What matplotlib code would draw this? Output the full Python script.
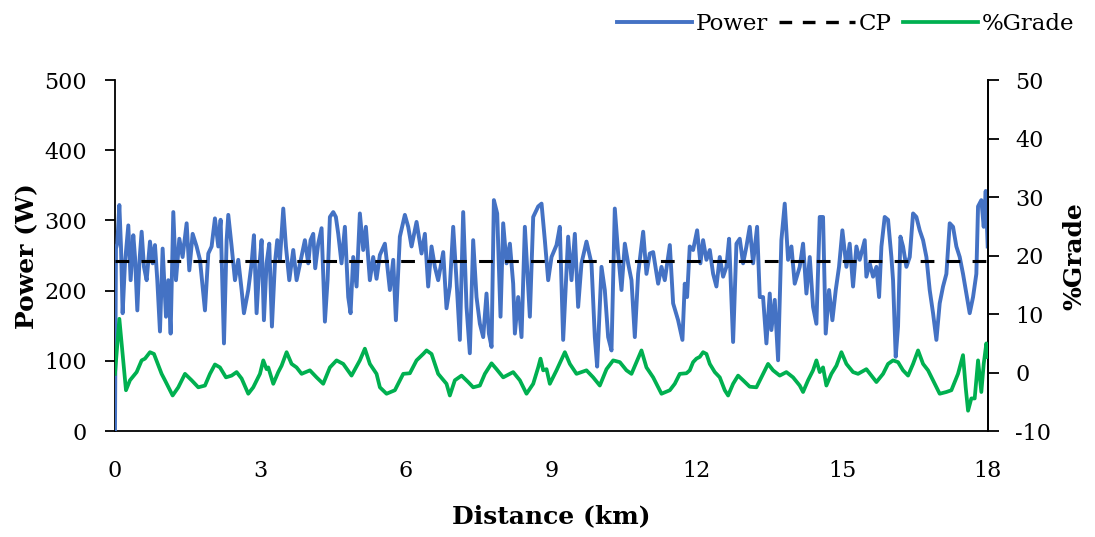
import matplotlib
matplotlib.use("Agg")
import matplotlib.pyplot as plt
from matplotlib.lines import Line2D

plt.rcParams['font.family'] = ['DejaVu Serif']
plt.rcParams['axes.unicode_minus'] = False

# Power trace (distance in km, power in W)
power_km = [0.0, 0.02, 0.048, 0.09, 0.124, 0.158, 0.206, 0.275, 0.323, 0.378, 0.413, 0.461,
            0.502, 0.55, 0.598, 0.653, 0.722, 0.777, 0.825, 0.873, 0.928, 0.983, 1.052, 1.1,
            1.148, 1.203, 1.258, 1.327, 1.395, 1.478, 1.533, 1.602, 1.684, 1.753, 1.856, 1.925,
            1.993, 2.062, 2.131, 2.179, 2.248, 2.303, 2.337, 2.406, 2.475, 2.543, 2.612, 2.66,
            2.749, 2.818, 2.866, 2.921, 2.976, 3.024, 3.072, 3.127, 3.182, 3.237, 3.299, 3.347,
            3.402, 3.471, 3.526, 3.595, 3.677, 3.746, 3.917, 3.986, 4.034, 4.089, 4.13, 4.192,
            4.261, 4.33, 4.385, 4.433, 4.502, 4.556, 4.605, 4.673, 4.742, 4.811, 4.859, 4.914,
            4.983, 5.051, 5.12, 5.175, 5.257, 5.326, 5.395, 5.464, 5.567, 5.67, 5.739, 5.794,
            5.876, 5.979, 6.048, 6.117, 6.22, 6.323, 6.392, 6.46, 6.529, 6.598, 6.666, 6.77,
            6.838, 6.907, 6.976, 7.044, 7.113, 7.182, 7.251, 7.319, 7.388, 7.457, 7.526, 7.595,
            7.663, 7.712, 7.767, 7.815, 7.883, 7.952, 8.007, 8.076, 8.145, 8.213, 8.248, 8.316,
            8.385, 8.454, 8.557, 8.626, 8.729, 8.798, 8.866, 8.935, 9.004, 9.107, 9.175, 9.244,
            9.347, 9.416, 9.485, 9.553, 9.622, 9.725, 9.828, 9.897, 9.945, 10.035, 10.103, 10.172,
            10.241, 10.309, 10.378, 10.447, 10.516, 10.584, 10.653, 10.722, 10.79, 10.894, 10.962,
            11.031, 11.1, 11.203, 11.272, 11.34, 11.444, 11.512, 11.615, 11.704, 11.752, 11.8,
            11.855, 11.924, 12.007, 12.075, 12.13, 12.199, 12.268, 12.337, 12.405, 12.474, 12.543,
            12.611, 12.666, 12.749, 12.818, 12.886, 12.955, 13.024, 13.092, 13.161, 13.244, 13.299,
            13.367, 13.436, 13.505, 13.539, 13.608, 13.677, 13.745, 13.814, 13.883, 13.952, 14.02,
            14.123, 14.192, 14.261, 14.33, 14.398, 14.467, 14.536, 14.604, 14.659, 14.728, 14.797,
            14.866, 14.934, 15.003, 15.086, 15.154, 15.223, 15.292, 15.36, 15.464, 15.498, 15.567,
            15.636, 15.705, 15.76, 15.808, 15.876, 15.945, 16.014, 16.048, 16.103, 16.151, 16.2,
            16.254, 16.323, 16.392, 16.461, 16.529, 16.598, 16.667, 16.736, 16.804, 16.873, 16.942,
            17.01, 17.079, 17.148, 17.217, 17.285, 17.354, 17.423, 17.491, 17.56, 17.629, 17.698,
            17.766, 17.801, 17.869, 17.918, 17.959, 18.0]
power_w = [0, 260, 267, 322, 263, 168, 239, 293, 215, 279, 248, 172,
           239, 284, 234, 215, 270, 239, 265, 215, 142, 260, 163, 215,
           139, 312, 215, 274, 248, 296, 229, 281, 263, 244, 172, 253,
           263, 303, 263, 301, 125, 272, 308, 263, 215, 244, 201, 168,
           201, 239, 279, 168, 234, 272, 158, 239, 267, 149, 239, 272,
           244, 317, 263, 215, 258, 215, 272, 239, 272, 281, 232, 267,
           289, 156, 215, 305, 312, 305, 281, 239, 291, 191, 168, 248,
           206, 310, 258, 291, 215, 248, 217, 251, 267, 201, 244, 158,
           277, 308, 291, 263, 298, 253, 281, 206, 263, 234, 215, 255,
           175, 206, 291, 215, 130, 312, 177, 111, 272, 191, 153, 134,
           196, 139, 120, 329, 310, 163, 296, 239, 267, 210, 139, 191,
           134, 291, 163, 305, 320, 324, 272, 215, 248, 265, 291, 130,
           277, 215, 281, 177, 239, 270, 239, 134, 92, 234, 201, 134,
           115, 317, 253, 201, 267, 239, 215, 134, 224, 284, 224,
           253, 255, 210, 234, 215, 265, 182, 158, 130, 210, 191,
           263, 258, 286, 239, 272, 244, 258, 224, 206, 248, 220,
           234, 274, 127, 267, 274, 239, 263, 291, 239, 291, 191,
           191, 125, 196, 144, 187, 101, 272, 324, 244, 263, 210,
           234, 267, 196, 248, 177, 153, 305, 305, 139, 201, 158,
           201, 234, 286, 234, 267, 206, 263, 244, 272, 220, 239,
           220, 234, 191, 263, 305, 301, 248, 215, 106, 149, 277,
           263, 234, 248, 310, 305, 286, 272, 248, 201, 168, 130,
           182, 206, 224, 296, 291, 263, 248, 224, 196, 168, 191,
           224, 320, 329, 291, 342, 263]

# Gradient profile (distance in km, grade in %)
grade_km = [0.0, 0.09, 0.227, 0.309, 0.447, 0.55, 0.619, 0.722, 0.804, 0.962, 1.031, 1.189,
            1.306, 1.444, 1.581, 1.718, 1.856, 1.959, 2.062, 2.165, 2.289, 2.406, 2.509, 2.612,
            2.749, 2.852, 2.99, 3.059, 3.127, 3.162, 3.265, 3.368, 3.437, 3.54, 3.643, 3.745,
            3.849, 4.02, 4.158, 4.295, 4.433, 4.57, 4.708, 4.879, 5.051, 5.154, 5.257, 5.395,
            5.464, 5.601, 5.773, 5.945, 6.082, 6.22, 6.357, 6.426, 6.529, 6.666, 6.838, 6.907,
            7.01, 7.148, 7.285, 7.388, 7.526, 7.629, 7.767, 7.87, 8.007, 8.213, 8.351, 8.488,
            8.626, 8.729, 8.777, 8.832, 8.901, 8.969, 9.107, 9.279, 9.382, 9.519, 9.725, 9.863,
            10.0, 10.138, 10.275, 10.413, 10.55, 10.653, 10.756, 10.859, 10.962, 11.1, 11.272,
            11.444, 11.546, 11.649, 11.787, 11.855, 11.924, 11.993, 12.062, 12.13, 12.199, 12.268,
            12.371, 12.474, 12.577, 12.646, 12.749, 12.852, 12.955, 13.092, 13.23, 13.333, 13.47,
            13.574, 13.711, 13.848, 13.986, 14.123, 14.192, 14.295, 14.398, 14.467, 14.536, 14.604,
            14.673, 14.776, 14.88, 14.983, 15.086, 15.223, 15.326, 15.498, 15.705, 15.842, 15.945,
            16.048, 16.151, 16.254, 16.358, 16.461, 16.564, 16.667, 16.77, 16.873, 17.01, 17.148,
            17.251, 17.388, 17.491, 17.546, 17.595, 17.663, 17.732, 17.801, 17.869, 17.918, 17.972,
            18.0]
grade_pct = [-0.2, 9.2, -3.0, -1.3, 0.1, 2.1, 2.4, 3.5, 3.2, -0.2, -1.3, -3.9,
             -2.5, -0.2, -1.3, -2.5, -2.2, -0.2, 1.4, 0.9, -0.8, -0.5, 0.1, -1.0,
             -3.6, -2.5, -0.2, 2.1, 0.6, 0.9, -1.9, 0.1, 1.2, 3.5, 1.5, 0.9,
             -0.2, 0.4, -0.8, -1.9, 0.9, 2.1, 1.5, -0.5, 2.1, 4.1, 1.5, -0.2,
             -2.5, -3.6, -3.0, -0.2, -0.1, 2.1, 3.2, 3.8, 3.2, -0.2, -1.9, -3.9,
             -1.3, -0.5, -1.6, -2.5, -2.2, -0.2, 1.6, 0.6, -0.8, 0.1, -1.3, -3.6,
             -1.9, 0.9, 2.4, 0.4, 0.6, -1.9, 0.4, 3.5, 1.5, -0.2, 0.4, -0.8,
             -2.2, 0.6, 2.1, 1.8, 0.4, -0.2, 1.8, 3.8, 0.9, -0.8, -3.6,
             -3.0, -1.9, -0.2, -0.1, 0.4, 1.8, 2.4, 2.7, 3.5, 3.2, 1.5,
             0.1, -0.8, -3.0, -3.9, -1.9, -0.5, -1.3, -2.4, -2.5, -0.8, 1.5,
             0.4, -0.5, 0.1, -0.8, -2.2, -3.3, -1.3, 0.4, 2.1, 0.1, 0.9,
             -2.2, -0.2, 1.2, 3.5, 1.5, 0.1, -0.2, 0.6, -1.6, -0.2, 1.5,
             2.1, 1.8, 0.4, -0.5, 1.5, 3.8, 1.5, 0.4, -1.3, -3.6, -3.3,
             -3.0, -0.2, 3.0, -2.5, -6.5, -4.4, -4.4, 2.1, -3.3, 1.5, 5.0,
             2.7]

cp_watts = 242
x_ticks = [0, 3, 6, 9, 12, 15, 18]
power_ticks = [0, 100, 200, 300, 400, 500]
grade_ticks = [-10, 0, 10, 20, 30, 40, 50]

blue = '#4472C4'
green = '#00B050'

fig = plt.figure(figsize=(10.95, 5.37), dpi=100)
ax = fig.add_axes([0.105, 0.197, 0.797, 0.654])
ax2 = ax.twinx()

ax.plot(power_km, power_w, color=blue, lw=2.8, solid_joinstyle='round', zorder=3)
ax.plot([0, 18], [cp_watts, cp_watts], color='black', lw=2.2,
        dashes=(4.5, 4), zorder=4)
ax2.plot(grade_km, grade_pct, color=green, lw=2.7, solid_joinstyle='round', zorder=3)

ax.set_xlim(0, 18)
ax.set_ylim(0, 500)
ax2.set_ylim(-10, 50)
ax.set_xticks(x_ticks)
ax.set_yticks(power_ticks)
ax2.set_yticks(grade_ticks)

for a in (ax, ax2):
    a.spines['top'].set_visible(False)
    for s in a.spines.values():
        s.set_linewidth(1.3)
ax.tick_params(axis='y', length=7, width=1.3, labelsize=16, pad=13)
ax2.tick_params(axis='y', length=8, width=1.3, labelsize=16, pad=12)
ax.tick_params(axis='x', length=0, labelsize=16, pad=21)
ax2.spines['left'].set_visible(False)
ax2.spines['bottom'].set_visible(False)

ax.set_xlabel('Distance (km)', fontsize=18, fontweight='bold', labelpad=16)
ax.set_ylabel('Power (W)', fontsize=18, fontweight='bold', labelpad=4)
ax2.set_ylabel('%Grade', fontsize=18, fontweight='bold', labelpad=8)

handles = [Line2D([], [], color=blue, lw=2.8),
           Line2D([], [], color='black', lw=2.4, dashes=(3.8, 3.2)),
           Line2D([], [], color=green, lw=2.7)]
fig.legend(handles, ['Power', 'CP', '%Grade'], loc='upper right',
           bbox_to_anchor=(1.0, 1.015), ncol=3, frameon=False, fontsize=16.5,
           handlelength=3.3, handletextpad=0.15, columnspacing=0.5)

fig.savefig('out.png', dpi=100)
